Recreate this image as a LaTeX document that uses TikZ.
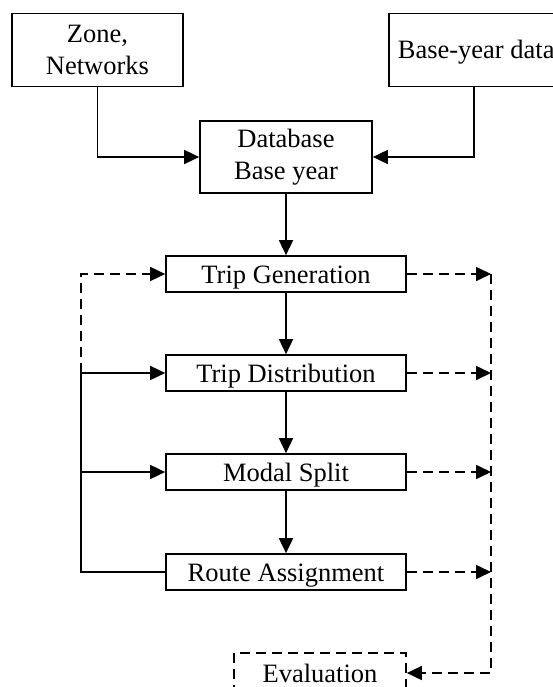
\documentclass[tikz,border=0pt]{standalone}
\usepackage{fontspec}
\setmainfont{Liberation Serif}
\usetikzlibrary{arrows.meta}
\begin{document}
\begin{tikzpicture}[x=1pt,y=-1pt,
  line width=1.7pt,
  box/.style={draw, rectangle, inner sep=0pt,
    font=\fontsize{26.5}{32}\selectfont},
  twoline/.style={box, align=center},
  oneline/.style={box, text height=18pt, text depth=0pt},
  stage/.style={oneline, minimum width=240pt, minimum height=36pt},
  arr/.style={-{Triangle[length=15pt,width=14pt]}},
  dsh/.style={dash pattern=on 10pt off 6pt}]
\useasboundingbox (0,0) rectangle (553,687);
\clip (0,0) rectangle (553,687);

% inputs
\node[twoline, minimum width=171pt, minimum height=73pt] (zone) at (97.5,50) {Zone,\\Networks};
\node[oneline, anchor=west, minimum height=73pt, inner xsep=9pt] (base) at (388,50) {Base-year data};
\node[twoline, minimum width=172pt, minimum height=72pt] (db) at (286,157) {Database\\Base year};

% four-stage model
\node[stage] (gen)   at (286,274) {Trip Generation};
\node[stage] (dist)  at (286,373) {Trip Distribution};
\node[stage] (modal) at (286,472) {Modal Split};
\node[stage] (route) at (286,572) {Route Assignment};

\node[oneline, dsh, minimum width=172pt, minimum height=40pt] (eval) at (320,673) {Evaluation};

% bend points
\coordinate (zc) at (97.5,157);
\coordinate (bc) at (474,157);
\coordinate (l1) at (81,274);
\coordinate (l2) at (81,373);
\coordinate (l3) at (81,472);
\coordinate (l4) at (81,572);
\coordinate (r1) at (491,274);
\coordinate (r2) at (491,373);
\coordinate (r3) at (491,472);
\coordinate (r4) at (491,572);
\coordinate (r5) at (491,673);

% inputs into the database
\draw[arr] (zone.south) -- (zc) -- (db.west);
\draw[arr] (base.south -| bc) -- (bc) -- (db.east);
\draw[arr] (db.south) -- (gen.north);

% main sequence
\draw[arr] (gen.south) -- (dist.north);
\draw[arr] (dist.south) -- (modal.north);
\draw[arr] (modal.south) -- (route.north);

% feedback on the left
\draw (route.west) -- (l4) -- (l2);
\draw[arr] (l2) -- (dist.west);
\draw[arr] (l3) -- (modal.west);
\draw[arr, dsh] (l2) -- (l1) -- (gen.west);

% outputs on the right
\draw[arr, dsh] (gen.east) -- (r1);
\draw[arr, dsh] (dist.east) -- (r2);
\draw[arr, dsh] (modal.east) -- (r3);
\draw[arr, dsh] (route.east) -- (r4);
\draw[arr, dsh] (r1) -- (r5) -- (eval.east);
\end{tikzpicture}
\end{document}
